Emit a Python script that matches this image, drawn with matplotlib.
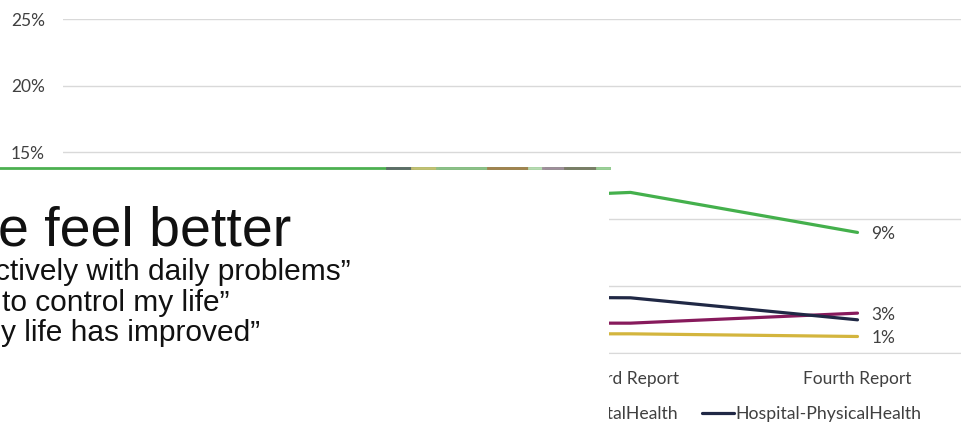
import matplotlib
matplotlib.use("Agg")
import matplotlib.pyplot as plt
from matplotlib.patches import Rectangle
from matplotlib.lines import Line2D
from matplotlib.ticker import PercentFormatter

# report rounds and the share of responses per group (percent)
reports = ["First Report", "Second Report", "Third Report", "Fourth Report"]
community_mental = [13.0, 11.3, 12.0, 9.0]
community_physical = [1.6, 1.4, 1.4, 1.2]
hospital_mental = [2.3, 2.2, 2.2, 2.95]
hospital_physical = [4.5, 4.2, 4.1, 2.45]
yticks = [0, 5, 10, 15, 20, 25]

series = [
    ("Community-MentalHealth", community_mental, "#44b04c", True),
    ("Community-PhysicalHealth", community_physical, "#d3b53e", True),
    ("Hospital-MentalHealth", hospital_mental, "#871a5c", True),
    ("Hospital-PhysicalHealth", hospital_physical, "#202845", False),
]

W, H = 961, 423
fig = plt.figure(figsize=(W / 100, H / 100), dpi=100)
fig.patch.set_facecolor("white")

# chart area runs off the right edge of the slide
ax = fig.add_axes([63 / W, (H - 352.5) / H, 908 / W, 333.5 / H])
x = list(range(len(reports)))
for name, vals, col, lab in series:
    ax.plot(x, vals, color=col, lw=2.3, label=name, solid_capstyle="round", zorder=3)
    if lab:
        ax.annotate("%.0f%%" % vals[-1], (x[-1], vals[-1]), xytext=(10, -1),
                    textcoords="offset points", va="center", ha="left",
                    fontsize=12.5, family="Lato", color="#404040")

ax.set_xlim(-0.5, 3.5)
ax.set_ylim(0, 25)
ax.set_yticks(yticks)
ax.yaxis.set_major_formatter(PercentFormatter(decimals=0))
ax.set_xticks(x)
ax.set_xticklabels(reports)
ax.grid(axis="y", color="#d9d9d9", lw=1)
ax.set_axisbelow(True)
for s in ["top", "right", "left"]:
    ax.spines[s].set_visible(False)
ax.spines["bottom"].set_color("#d9d9d9")
ax.tick_params(length=0, labelsize=12.5, labelcolor="#404040")
ax.tick_params(axis="y", pad=13)
ax.tick_params(axis="x", pad=13)
for t in ax.get_xticklabels() + ax.get_yticklabels():
    t.set_family("Lato")

leg = fig.legend(loc="center right", bbox_to_anchor=(921 / W, 1 - 414 / H), ncol=4,
                 frameon=False, handlelength=1.8, handletextpad=0.05,
                 columnspacing=1.4, borderpad=0, borderaxespad=0,
                 prop={"family": "Lato", "size": 12.7})
for t in leg.get_texts():
    t.set_color("#404040")

# text panel laid over the left part of the chart
top = (H - 168.5) / H
fig.add_artist(Rectangle((0, 0), 609 / W, top, transform=fig.transFigure,
                         facecolor="white", edgecolor="none", zorder=10))
fig.add_artist(Line2D([0, 609 / W], [top, top], transform=fig.transFigure,
                      color="#4cb050", lw=2, zorder=11))
strip = [(387, 412, "#5d6b68"), (412, 437, "#c4bf72"), (437, 488, "#8dbf88"),
         (488, 529, "#a3814f"), (529, 543, "#b7dab2"), (543, 565, "#a08c9c"),
         (565, 597, "#7b7b67"), (597, 609, "#9ccf98")]
for x0, x1, c in strip:
    fig.add_artist(Line2D([x0 / W, x1 / W], [top, top], transform=fig.transFigure,
                          color=c, lw=2, zorder=12))

fig.text(-2 / W, 1 - 246 / H, "e feel better", fontsize=40, family="Liberation Sans",
         color="#111111", va="baseline", ha="left", zorder=13)
lines = [(-5, 280, "ctively with daily problems\u201d"),
         (2, 311, "to control my life\u201d"),
         (1, 341, "y life has improved\u201d")]
for lx, ly, s in lines:
    fig.text(lx / W, 1 - ly / H, s, fontsize=21.5, family="Liberation Sans",
             color="#111111", va="baseline", ha="left", zorder=13)

fig.savefig("out.png", dpi=100)
